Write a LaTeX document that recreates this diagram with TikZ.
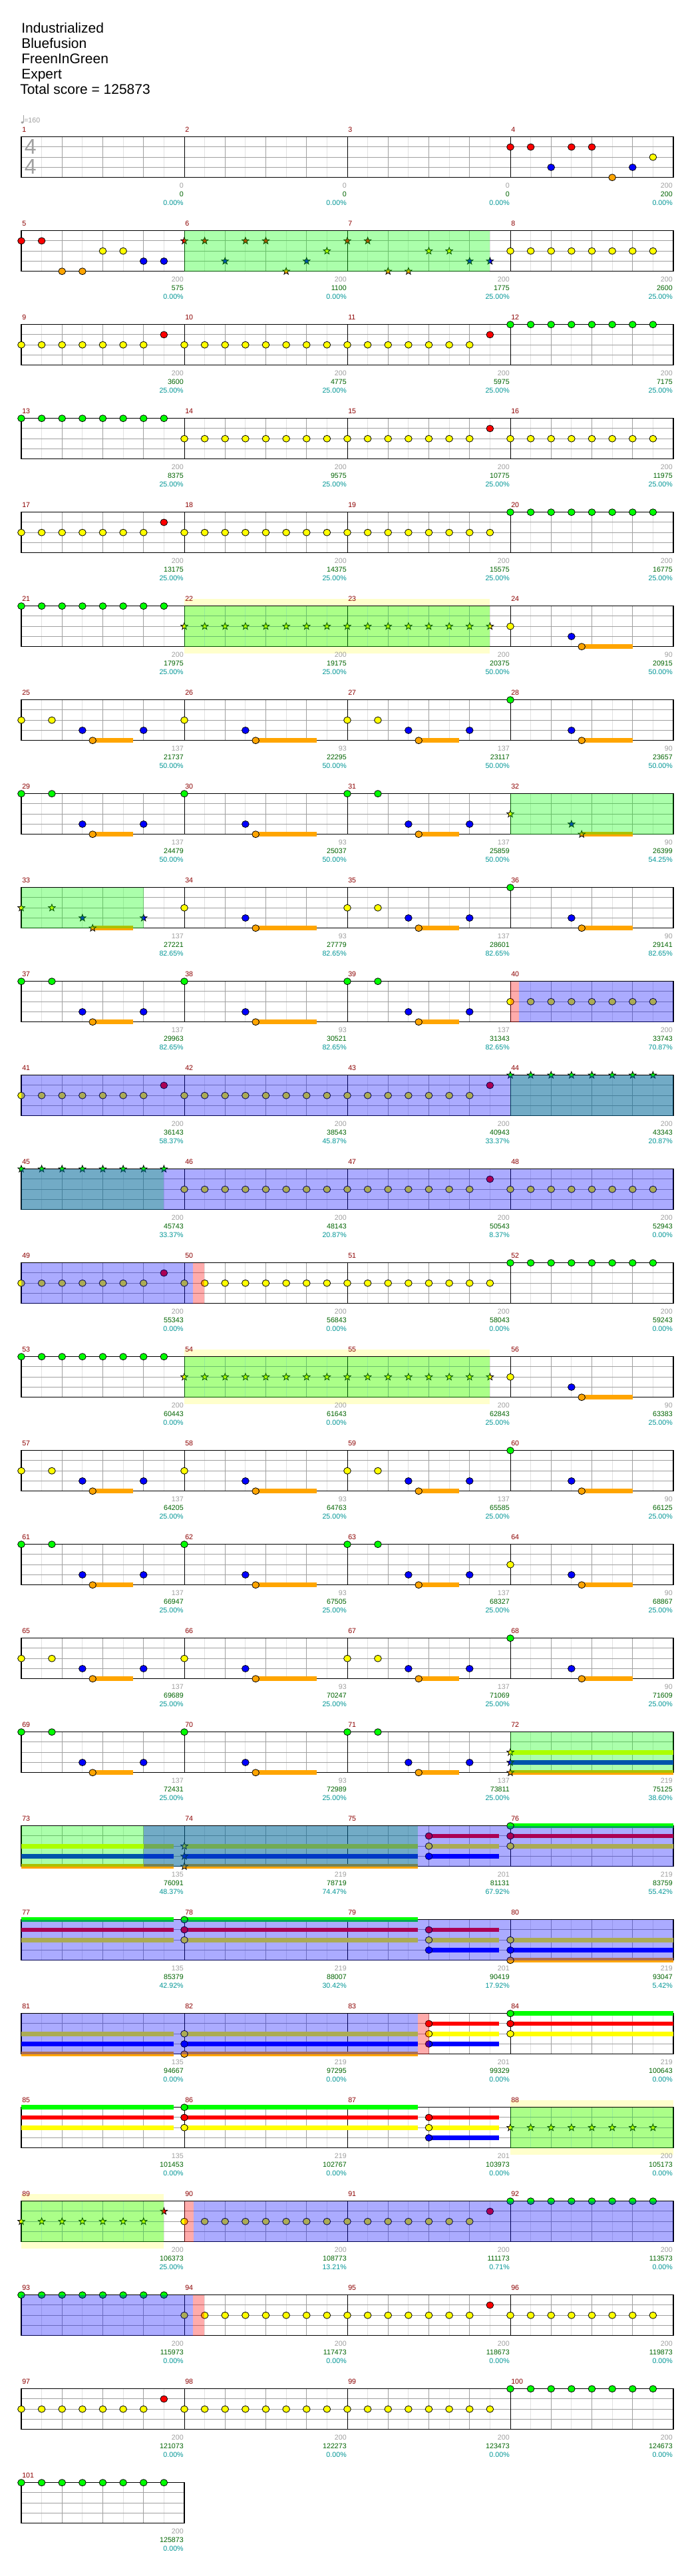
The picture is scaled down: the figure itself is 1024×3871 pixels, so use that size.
\documentclass[tikz,border=0pt]{standalone}
\usepackage{fontspec}
\setmainfont{Liberation Sans}

\definecolor{fret0}{RGB}{0,255,0}
\definecolor{fret1}{RGB}{255,0,0}
\definecolor{fret2}{RGB}{255,255,0}
\definecolor{fret3}{RGB}{0,0,255}
\definecolor{fret4}{RGB}{255,165,0}
\definecolor{barred}{RGB}{140,0,0}
\definecolor{scoregreen}{RGB}{0,100,0}
\definecolor{pctteal}{RGB}{0,150,150}
\definecolor{lightgrid}{RGB}{225,225,225}
\definecolor{midgrid}{RGB}{160,160,160}
\definecolor{paleyellow}{RGB}{255,255,204}

\newcommand\gem[2]{\draw[gem,fill=fret#2] (#1,#2) ellipse [x radius=4pt,y radius=3.75pt];}
\newcommand\sgem[2]{\draw[gem,fill=fret#2,shift={(#1,#2)},x=1pt,y=1pt]
  (90:4.1)--(126:1.7)--(162:4.1)--(198:1.7)--(234:4.1)--(270:1.7)--(306:4.1)--(342:1.7)--(18:4.1)--(54:1.7)--cycle;}
\newcommand\hold[3]{\fill[fret#3] (#1,#3-0.22) rectangle (#2,#3+0.22);}
\newcommand\stream[3]{\pgfmathtruncatemacro\nxt{#1+2}\foreach \s in {#1,\nxt,...,#2} {\gem{\s}{#3}}}
\newcommand\sstream[3]{\pgfmathtruncatemacro\nxt{#1+2}\foreach \s in {#1,\nxt,...,#2} {\sgem{\s}{#3}}}
\newcommand\spzone[2]{\fill[green,opacity=0.33] (#1,0) rectangle (#2,4);}
\newcommand\activ[2]{\fill[blue,opacity=0.33] (#1,0) rectangle (#2,4);}
\newcommand\pinkz[2]{\fill[red,opacity=0.33] (#1,0) rectangle (#2,4);}
\newcommand\paleband[2]{\fill[paleyellow] (#1,-0.68) rectangle (#2,4.68);}
\newcommand\grid[1]{%
  \foreach \s in {2,6,...,#1} \draw[eighth] (\s,0) -- (\s,4);
  \foreach \s in {4,8,...,#1} \draw[beat] (\s,0) -- (\s,4);
  \foreach \l in {1,2,3} \draw[beat] (0,\l) -- (#1,\l);
  \ifnum#1>16 \foreach \s in {16,32,48} \draw[barline] (\s,0) -- (\s,4); \fi
  \draw[staff] (0,0) rectangle (#1,4);}
\newcommand\riff[1]{%
  \foreach \s in {0,3,16,32,35} {\gem{\s}{#1}}
  \foreach \a/\b in {7/11,23/29,39/43} {\hold{\a}{\b}{4}\gem{\a}{4}}
  \foreach \s in {6,12,22,38,44} {\gem{\s}{3}}}
\newcommand\riffend[1]{\gem{48}{#1}\gem{54}{3}\hold{55}{60}{4}\gem{55}{4}}
\newcommand\labels[2]{%
  \foreach \cv/\sv/\pv [count=\k from 0] in {#2} {
    \pgfmathtruncatemacro\mnum{#1+\k}
    \node[barnum] (bar\mnum) at (16*\k,-0.46) {\mnum};
    \node[hitcount] (hits\mnum) at (16*\k+16,5.02) {\cv};
    \node[scoretxt] (score\mnum) at (16*\k+16,5.87) {\sv};
    \node[pcttxt] (pct\mnum) at (16*\k+16,6.72) {\pv\%};
  }}

\begin{document}
\begin{tikzpicture}[x=0.75pt,y=-0.75pt]
    \tikzset{
      gem/.style={draw=black,line width=0.6pt},
      eighth/.style={lightgrid,line width=0.75pt},
      beat/.style={midgrid,line width=0.75pt},
      barline/.style={black,line width=0.75pt},
      staff/.style={black,line width=1pt},
      small/.style={inner sep=0pt,font=\fontsize{8}{9}\selectfont},
      barnum/.style={small,anchor=base west,xshift=0.75pt,text=barred},
      hitcount/.style={small,anchor=base east,xshift=-0.75pt,text=midgrid},
      scoretxt/.style={small,anchor=base east,xshift=-0.75pt,text=scoregreen},
      pcttxt/.style={small,anchor=base east,xshift=-0.75pt,text=pctteal},
      header/.style={anchor=base west,inner sep=0pt,font=\fontsize{15.75}{18}\selectfont},
      timesig/.style={inner sep=0pt,text=midgrid,font=\fontsize{24}{26}\selectfont},
      rowat/.style={xshift=24pt,yshift={-(154.275+105.75*(#1-1))},x=11.484375pt,y=-11.4375pt}
    }
    \fill[white] (0,0) rectangle (1024,3871);
    \useasboundingbox (0,0) rectangle (1024,3871);

    \node[header] (song) at (32,50) {Industrialized};
    \node[header] (band) at (32,73) {Bluefusion};
    \node[header] (charter) at (32,96) {FreenInGreen};
    \node[header] (level) at (32,119) {Expert};
    \node[header] (total) at (30,142) {Total score = 125873};

    % measures 1-4
    \begin{scope}[rowat=1]
      \grid{64}
      \foreach \s in {48,50,54,56} {\gem{\s}{1}}
      \gem{52}{3} \gem{60}{3} \gem{58}{4} \gem{62}{2}
      \labels{1}{0/0/0.00, 0/0/0.00, 0/0/0.00, 200/200/0.00}
    \end{scope}
    \node[timesig] (tsup) at (45.7,220.5) {4};
    \node[timesig] (tsdown) at (45.7,250.5) {4};
    \fill[midgrid] (33.5,184) ellipse [x radius=1.5pt,y radius=1.2pt];
    \draw[midgrid,line width=0.5pt] (35.4,184) -- (35.4,173);
    \node[small,anchor=base west,text=midgrid] (tempo) at (36,185) {=160};

    % measures 5-8
    \begin{scope}[rowat=2]
      \grid{64}
      \foreach \s/\l in {0/1,2/1,4/4,6/4,8/2,10/2,12/3,14/3} {\gem{\s}{\l}}
      \foreach \s/\l in {16/1,18/1,20/3,22/1,24/1,26/4,28/3,30/2,32/1,34/1,36/4,38/4,40/2,42/2,44/3,46/3} {\sgem{\s}{\l}}
      \stream{48}{62}{2}
      \spzone{16}{46}
      \labels{5}{200/575/0.00, 200/1100/0.00, 200/1775/25.00, 200/2600/25.00}
    \end{scope}

    % measures 9-12
    \begin{scope}[rowat=3]
      \grid{64}
      \stream{0}{12}{2} \gem{14}{1} \stream{16}{44}{2} \gem{46}{1} \stream{48}{62}{0}
      \labels{9}{200/3600/25.00, 200/4775/25.00, 200/5975/25.00, 200/7175/25.00}
    \end{scope}

    % measures 13-16
    \begin{scope}[rowat=4]
      \grid{64}
      \stream{0}{14}{0} \stream{16}{44}{2} \gem{46}{1} \stream{48}{62}{2}
      \labels{13}{200/8375/25.00, 200/9575/25.00, 200/10775/25.00, 200/11975/25.00}
    \end{scope}

    % measures 17-20
    \begin{scope}[rowat=5]
      \grid{64}
      \stream{0}{12}{2} \gem{14}{1} \stream{16}{46}{2} \stream{48}{62}{0}
      \labels{17}{200/13175/25.00, 200/14375/25.00, 200/15575/25.00, 200/16775/25.00}
    \end{scope}

    % measures 21-24
    \begin{scope}[rowat=6]
      \paleband{16}{46}
      \grid{64}
      \stream{0}{14}{0} \sstream{16}{46}{2} \riffend{2}
      \spzone{16}{46}
      \labels{21}{200/17975/25.00, 200/19175/25.00, 200/20375/50.00, 90/20915/50.00}
    \end{scope}

    % measures 25-28
    \begin{scope}[rowat=7]
      \grid{64}
      \riff{2} \riffend{0}
      \labels{25}{137/21737/50.00, 93/22295/50.00, 137/23117/50.00, 90/23657/50.00}
    \end{scope}

    % measures 29-32
    \begin{scope}[rowat=8]
      \grid{64}
      \riff{0}
      \sgem{48}{2} \sgem{54}{3} \hold{55}{60}{4} \sgem{55}{4}
      \spzone{48}{64}
      \labels{29}{137/24479/50.00, 93/25037/50.00, 137/25859/50.00, 90/26399/54.25}
    \end{scope}

    % measures 33-36
    \begin{scope}[rowat=9]
      \grid{64}
      \sgem{0}{2} \sgem{3}{2} \sgem{6}{3} \hold{7}{11}{4} \sgem{7}{4} \sgem{12}{3}
      \foreach \s in {16,32,35} {\gem{\s}{2}}
      \foreach \s in {22,38,44} {\gem{\s}{3}}
      \foreach \a/\b in {23/29,39/43} {\hold{\a}{\b}{4}\gem{\a}{4}}
      \riffend{0}
      \spzone{0}{12}
      \labels{33}{137/27221/82.65, 93/27779/82.65, 137/28601/82.65, 90/29141/82.65}
    \end{scope}

    % measures 37-40
    \begin{scope}[rowat=10]
      \grid{64}
      \riff{0} \stream{48}{62}{2}
      \pinkz{48}{48.85} \activ{48.85}{64}
      \labels{37}{137/29963/82.65, 93/30521/82.65, 137/31343/82.65, 200/33743/70.87}
    \end{scope}

    % measures 41-44
    \begin{scope}[rowat=11]
      \grid{64}
      \stream{0}{12}{2} \gem{14}{1} \stream{16}{44}{2} \gem{46}{1} \sstream{48}{62}{0}
      \spzone{48}{64} \activ{0}{64}
      \labels{41}{200/36143/58.37, 200/38543/45.87, 200/40943/33.37, 200/43343/20.87}
    \end{scope}

    % measures 45-48
    \begin{scope}[rowat=12]
      \grid{64}
      \sstream{0}{14}{0} \stream{16}{44}{2} \gem{46}{1} \stream{48}{62}{2}
      \spzone{0}{14} \activ{0}{64}
      \labels{45}{200/45743/33.37, 200/48143/20.87, 200/50543/8.37, 200/52943/0.00}
    \end{scope}

    % measures 49-52
    \begin{scope}[rowat=13]
      \grid{64}
      \stream{0}{12}{2} \gem{14}{1} \stream{16}{46}{2} \stream{48}{62}{0}
      \activ{0}{16.87} \pinkz{16.87}{17.96}
      \labels{49}{200/55343/0.00, 200/56843/0.00, 200/58043/0.00, 200/59243/0.00}
    \end{scope}

    % measures 53-56
    \begin{scope}[rowat=14]
      \paleband{16}{46}
      \grid{64}
      \stream{0}{14}{0} \sstream{16}{46}{2} \riffend{2}
      \spzone{16}{46}
      \labels{53}{200/60443/0.00, 200/61643/0.00, 200/62843/25.00, 90/63383/25.00}
    \end{scope}

    % measures 57-60
    \begin{scope}[rowat=15]
      \grid{64}
      \riff{2} \riffend{0}
      \labels{57}{137/64205/25.00, 93/64763/25.00, 137/65585/25.00, 90/66125/25.00}
    \end{scope}

    % measures 61-64
    \begin{scope}[rowat=16]
      \grid{64}
      \riff{0} \riffend{2}
      \labels{61}{137/66947/25.00, 93/67505/25.00, 137/68327/25.00, 90/68867/25.00}
    \end{scope}

    % measures 65-68
    \begin{scope}[rowat=17]
      \grid{64}
      \riff{2} \riffend{0}
      \labels{65}{137/69689/25.00, 93/70247/25.00, 137/71069/25.00, 90/71609/25.00}
    \end{scope}

    % measures 69-72
    \begin{scope}[rowat=18]
      \grid{64}
      \riff{0}
      \foreach \l in {2,3,4} {\hold{48}{64}{\l}\sgem{48}{\l}}
      \spzone{48}{64}
      \labels{69}{137/72431/25.00, 93/72989/25.00, 137/73811/25.00, 219/75125/38.60}
    \end{scope}

    % measures 73-76
    \begin{scope}[rowat=19]
      \grid{64}
      \foreach \l in {2,3,4} {\hold{0}{14.95}{\l}\hold{16}{38.9}{\l}\sgem{16}{\l}}
      \foreach \l in {1,2,3} {\hold{40}{46.9}{\l}\gem{40}{\l}}
      \foreach \l in {0,1,2} {\hold{48}{64}{\l}\gem{48}{\l}}
      \spzone{0}{38.9} \activ{12}{64}
      \labels{73}{135/76091/48.37, 219/78719/74.47, 201/81131/67.92, 219/83759/55.42}
    \end{scope}

    % measures 77-80
    \begin{scope}[rowat=20]
      \grid{64}
      \foreach \l in {0,1,2} {\hold{0}{14.95}{\l}\hold{16}{38.9}{\l}\gem{16}{\l}}
      \foreach \l in {1,2,3} {\hold{40}{46.9}{\l}\gem{40}{\l}}
      \foreach \l in {2,3,4} {\hold{48}{64}{\l}\gem{48}{\l}}
      \activ{0}{64}
      \labels{77}{135/85379/42.92, 219/88007/30.42, 201/90419/17.92, 219/93047/5.42}
    \end{scope}

    % measures 81-84
    \begin{scope}[rowat=21]
      \grid{64}
      \foreach \l in {2,3,4} {\hold{0}{14.95}{\l}\hold{16}{38.9}{\l}\gem{16}{\l}}
      \foreach \l in {1,2,3} {\hold{40}{46.9}{\l}\gem{40}{\l}}
      \foreach \l in {0,1,2} {\hold{48}{64}{\l}\gem{48}{\l}}
      \activ{0}{38.9} \pinkz{38.9}{40}
      \labels{81}{135/94667/0.00, 219/97295/0.00, 201/99329/0.00, 219/100643/0.00}
    \end{scope}

    % measures 85-88
    \begin{scope}[rowat=22]
      \paleband{48}{64}
      \grid{64}
      \foreach \l in {0,1,2} {\hold{0}{14.95}{\l}\hold{16}{38.9}{\l}\gem{16}{\l}}
      \foreach \l in {1,2,3} {\hold{40}{46.9}{\l}\gem{40}{\l}}
      \sstream{48}{62}{2}
      \spzone{48}{64}
      \labels{85}{135/101453/0.00, 219/102767/0.00, 201/103973/0.00, 200/105173/0.00}
    \end{scope}

    % measures 89-92
    \begin{scope}[rowat=23]
      \paleband{0}{14}
      \grid{64}
      \sstream{0}{12}{2} \sgem{14}{1} \stream{16}{44}{2} \gem{46}{1} \stream{48}{62}{0}
      \spzone{0}{14} \pinkz{16}{16.9} \activ{16.9}{64}
      \labels{89}{200/106373/25.00, 200/108773/13.21, 200/111173/0.71, 200/113573/0.00}
    \end{scope}

    % measures 93-96
    \begin{scope}[rowat=24]
      \grid{64}
      \stream{0}{14}{0} \stream{16}{44}{2} \gem{46}{1} \stream{48}{62}{2}
      \activ{0}{16.87} \pinkz{16.87}{17.96}
      \labels{93}{200/115973/0.00, 200/117473/0.00, 200/118673/0.00, 200/119873/0.00}
    \end{scope}

    % measures 97-100
    \begin{scope}[rowat=25]
      \grid{64}
      \stream{0}{12}{2} \gem{14}{1} \stream{16}{46}{2} \stream{48}{62}{0}
      \labels{97}{200/121073/0.00, 200/122273/0.00, 200/123473/0.00, 200/124673/0.00}
    \end{scope}

    % measure 101
    \begin{scope}[rowat=26]
      \grid{16}
      \stream{0}{14}{0}
      \labels{101}{200/125873/0.00}
    \end{scope}
\end{tikzpicture}
\end{document}
